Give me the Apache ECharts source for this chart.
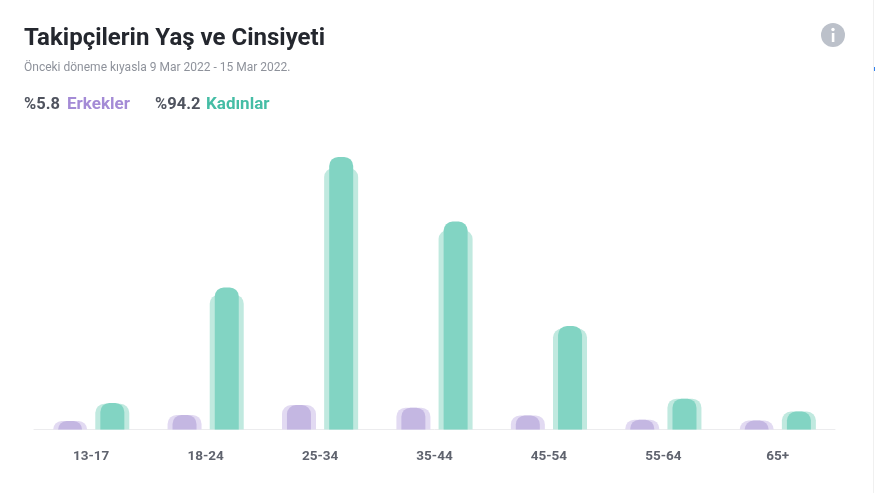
<!DOCTYPE html>
<html><head><meta charset="utf-8">
<style>html,body{margin:0;padding:0;background:#fff}#c{width:875px;height:493px}</style>
<script src="https://cdn.jsdelivr.net/npm/echarts@6/dist/echarts.min.js"></script>
</head><body><div id="c"></div>
<script>
const categories = ['13-17','18-24','25-34','35-44','45-54','55-64','65+'];
const maleCurrent = [1.0,1.7,2.85,2.55,1.65,1.15,1.05];
const malePrevious = [1.0,1.7,2.85,2.55,1.65,1.15,1.05];
const femaleCurrent = [3.1,16.6,31.85,24.3,12.1,3.6,2.1];
const femalePrevious = [3.0,15.75,30.55,23.3,11.8,3.6,2.1];
const titleText = 'Takipçilerin Yaş ve Cinsiyeti';
const subtitleText = 'Önceki döneme kıyasla 9 Mar 2022 - 15 Mar 2022.';
const stats = ['%5.8','Erkekler','%94.2','Kadınlar'];

const font = 'Roboto';
const chart = echarts.init(document.getElementById('c'), null, {renderer:'canvas'});
const xBase = {type:'category', data:categories, axisTick:{show:false}};
const r = [9,9,0,0];
function bar(name, data, color, width, axis, gap){
  return {name, type:'bar', data, barWidth:width, barGap:gap, xAxisIndex:axis, yAxisIndex:axis,
          itemStyle:{color, borderRadius:r}, silent:true};
}
function txt(x,y,text,size,weight,fill){
  return {type:'text', x, y, style:{text, font:weight+' '+size+'px '+font, fill, textBaseline:'middle'}};
}
chart.setOption({
  animation:false,
  backgroundColor:'#fff',
  title:{text:titleText, left:24, top:27, padding:0,
         textStyle:{fontFamily:font, fontSize:24, fontWeight:700, color:'#24272e'}},
  grid:{left:34, right:40, top:130, bottom:63.5, containLabel:false},
  xAxis:[
    Object.assign({}, xBase, {axisLine:{lineStyle:{color:'#ececee',width:1}},
      axisLabel:{margin:20, fontFamily:font, fontSize:13.5, fontWeight:700, color:'#5f636e'}}),
    Object.assign({}, xBase, {axisLine:{show:false}, axisLabel:{show:false}})
  ],
  yAxis:[
    {type:'value', min:0, max:35, show:false},
    {type:'value', min:0, max:35, show:false}
  ],
  series:[
    bar('Erkekler önceki', malePrevious, '#e2daf2', 34, 0, '24%'),
    bar('Kadınlar önceki', femalePrevious, '#c0e9df', 34, 0, '24%'),
    bar('Erkekler', maleCurrent, '#c4b7e2', 24, 1, '76%'),
    bar('Kadınlar', femaleCurrent, '#82d4c3', 24, 1, '76%')
  ],
  graphic:[
    txt(24,62,subtitleText,12,400,'#8e929b'),
    txt(24,96.5,stats[0],16.5,700,'#4f535e'),
    txt(67,96.5,stats[1],17,700,'#a48bd6'),
    txt(155,96.5,stats[2],16.5,700,'#4f535e'),
    txt(206,96.5,stats[3],17,700,'#45bda5'),
    {type:'circle', shape:{cx:833,cy:35,r:12}, style:{fill:'#bcc1ca'}},
    {type:'rect', shape:{x:831.8,y:33,width:2.6,height:9}, style:{fill:'#fff'}},
    {type:'circle', shape:{cx:833,cy:29.5,r:1.7}, style:{fill:'#fff'}},
    {type:'rect', shape:{x:873,y:0,width:1,height:493}, style:{fill:'#f0f0f0'}},
    {type:'rect', shape:{x:874,y:67,width:1,height:4}, style:{fill:'#2f80ed'}}
  ]
});
</script></body></html>
